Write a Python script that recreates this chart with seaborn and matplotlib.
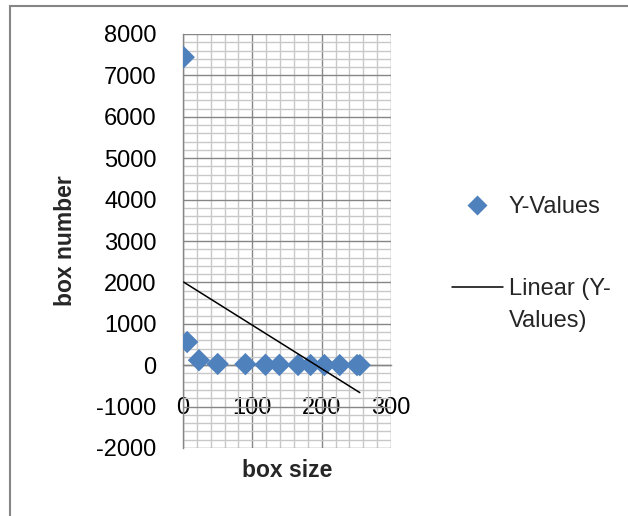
import numpy as np
import pandas as pd
import matplotlib
matplotlib.use('Agg')
import matplotlib.pyplot as plt
from matplotlib.lines import Line2D
from matplotlib.legend_handler import HandlerLine2D
from matplotlib.patches import Rectangle
from matplotlib.ticker import MultipleLocator
import seaborn as sns

# values
box_size = [1, 6, 23, 50, 90, 119, 139, 166, 184, 204, 226, 251, 255]
box_number = [7440, 560, 120, 30, 25, 10, 8, 5, 5, 4, 3, 2, 2]
x_ticks = [0, 100, 200, 300]
y_ticks = [-2000, -1000, 0, 1000, 2000, 3000, 4000, 5000, 6000, 7000, 8000]
series_label = 'Y-Values'
trend_label = 'Linear (Y-\nValues)'

sns.set_style('white')
plt.rcParams['font.family'] = ['Liberation Sans', 'DejaVu Sans']
plt.rcParams['axes.unicode_minus'] = False

blue = '#4F81BD'
grey = '#868686'

df = pd.DataFrame({'box size': box_size, 'box number': box_number})

fig = plt.figure(figsize=(6.28, 5.16), dpi=100)
ax = fig.add_axes([183 / 628, 1 - 448 / 516, 208 / 628, 414 / 516])

sns.scatterplot(data=df, x='box size', y='box number', marker='D', s=130,
                color=blue, edgecolor='none', ax=ax, zorder=3, legend=False)
sns.regplot(data=df, x='box size', y='box number', scatter=False, ci=None,
            color='black', line_kws={'lw': 1.1, 'zorder': 4}, ax=ax)

ax.set_xlim(0, 300)
ax.set_ylim(-2000, 8000)
ax.set_xticks(x_ticks)
ax.set_yticks(y_ticks)
ax.xaxis.set_minor_locator(MultipleLocator(20))
ax.yaxis.set_minor_locator(MultipleLocator(200))
ax.set_axisbelow(True)
ax.grid(which='major', color='#868686', lw=1.0)
ax.grid(which='minor', color='#c8c8c8', lw=1.0)

for side in ['top', 'right']:
    ax.spines[side].set_visible(False)
ax.spines['left'].set_position(('data', 0))
ax.spines['bottom'].set_position(('data', 0))
for side in ['left', 'bottom']:
    ax.spines[side].set_color(grey)
    ax.spines[side].set_linewidth(1.0)

ax.tick_params(which='minor', length=0)
ax.tick_params(axis='y', which='major', length=7, width=1, color=grey,
               direction='out', pad=12, labelsize=17, labelcolor='black')
ax.tick_params(axis='x', which='major', length=0, pad=23, labelsize=17,
               labelcolor='black')

ax.set_xlabel('box size', fontsize=16.5, fontweight='bold')
ax.set_ylabel('box number', fontsize=16.5, fontweight='bold')
ax.xaxis.set_label_coords(0.5, -0.055)
ax.xaxis.label.set_va('center')
ax.yaxis.set_label_coords((66 - 183) / 208, 0.5)
ax.yaxis.label.set_va('center')


class FirstLineHandler(HandlerLine2D):
    # put the trend line next to the first line of a two-line label
    def create_artists(self, legend, orig_handle, xdescent, ydescent,
                       width, height, fontsize, trans):
        return super().create_artists(legend, orig_handle, xdescent,
                                      ydescent - 2 * 13.0, width, height,
                                      fontsize, trans)


h1 = Line2D([], [], ls='none', marker='D', ms=10, color=blue, mec='none')
h2 = Line2D([], [], color='black', lw=1.1)
leg = ax.legend([h1, h2], [series_label, trend_label], frameon=False,
                loc='upper left', bbox_to_anchor=(452 / 628, 1 - 196 / 516),
                bbox_transform=fig.transFigure, fontsize=17,
                handlelength=2.16, handletextpad=0.25, borderpad=0,
                borderaxespad=0, labelspacing=2.55,
                handler_map={h2: FirstLineHandler()})
for t in leg.get_texts():
    t.set_linespacing(1.55)

fig.patches.append(Rectangle((10 / 628, -0.1), 1.2, 510 / 516 + 0.1,
                             transform=fig.transFigure, fill=False,
                             ec=grey, lw=1.5))

fig.savefig('out.png', dpi=100)
